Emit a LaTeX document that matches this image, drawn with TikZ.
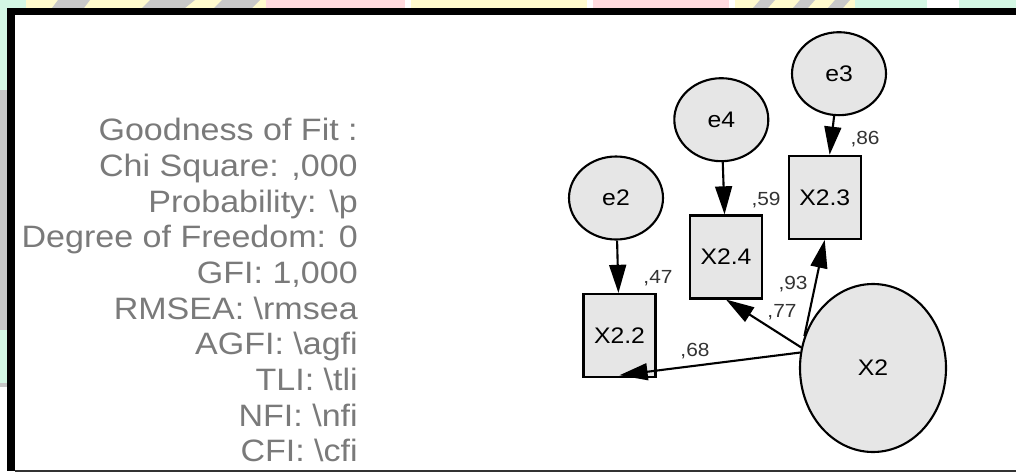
\documentclass[tikz,border=0pt]{standalone}
\usepackage{fontspec}
\setmainfont{Liberation Sans}
\usetikzlibrary{shapes.geometric}
\usetikzlibrary{arrows.meta}
\definecolor{fitgray}{RGB}{122,122,122}
\definecolor{boxgray}{RGB}{230,230,230}
\definecolor{paleyel}{RGB}{255,250,205}
\definecolor{palepink}{RGB}{255,218,222}
\definecolor{palegreen}{RGB}{212,247,228}
\definecolor{smudge}{RGB}{200,200,200}
\def\px{0.025cm}
\def\largeur{1016}
\def\hauteur{473}
\newcommand{\wtx}[1]{\scalebox{1.1}[1]{#1}}

\begin{document}
\begin{tikzpicture}[x=\px, y=-\px,
	obs/.style={draw, line width=1.5pt, fill=boxgray, minimum width=72*\px, minimum height=83*\px, inner sep=0pt, font=\fontsize{16}{19}\selectfont},
	err/.style={ellipse, draw, line width=1.5pt, fill=boxgray, minimum width=94*\px, minimum height=83*\px, inner sep=0pt, font=\fontsize{16}{19}\selectfont},
	coef/.style={text=black!80, inner sep=0pt, font=\fontsize{13.5}{16}\selectfont},
	fit/.style={anchor=base east, text=fitgray, inner sep=0pt, font=\fontsize{22}{26}\selectfont},
	path/.style={line width=1.5pt, -{Triangle[length=20pt, width=12pt]}}]
	\useasboundingbox (0,0) rectangle (\largeur,\hauteur);
	%\draw[step=50, black!10] (0,0) grid (\largeur,\hauteur);
	% strip of the page behind
	\fill[palegreen] (0,0) rectangle (26,8);
	\fill[paleyel] (26,0) rectangle (266,8);
	\fill[smudge] (58,0) -- (90,0) -- (84,8) -- (52,8) -- cycle;
	\fill[smudge] (150,0) -- (195,0) -- (185,8) -- (142,8) -- cycle;
	\fill[smudge] (222,0) -- (260,0) -- (252,8) -- (214,8) -- cycle;
	\fill[palepink] (266,0) rectangle (405,8);
	\fill[paleyel] (411,0) rectangle (587,8);
	\fill[palepink] (593,0) rectangle (729,8);
	\fill[paleyel] (735,0) rectangle (855,8);
	\fill[smudge] (760,0) -- (775,0) -- (768,8) -- (753,8) -- cycle;
	\fill[smudge] (800,0) -- (815,0) -- (808,8) -- (793,8) -- cycle;
	\fill[smudge] (835,0) -- (850,0) -- (843,8) -- (828,8) -- cycle;
	\fill[palegreen] (855,0) rectangle (927,8);
	\fill[palegreen] (959,0) rectangle (1016,8);
	\fill[palegreen] (0,8) rectangle (7,90);
	\fill[smudge] (0,90) rectangle (7,330);
	\fill[palegreen] (0,330) rectangle (7,383);
	\fill[smudge] (0,383) rectangle (7,387);
	% frame
	\fill[black] (7,8) rectangle (\largeur,15);
	\fill[black] (7,8) rectangle (15,471);
	\fill[black!80] (15,469.5) rectangle (\largeur,471.5);

	% fit indices
	\node[fit] (gof) at (358,140.7) {\wtx{Goodness of Fit :}};
	\node[fit] (chi) at (358,176.4) {\wtx{Chi Square: ,000}};
	\node[fit] (prob) at (358,212.0) {\wtx{Probability: \textbackslash p}};
	\node[fit] (df) at (358,247.7) {\wtx{Degree of Freedom: 0}};
	\node[fit] (gfi) at (358,283.4) {\wtx{GFI: 1,000}};
	\node[fit] (rmsea) at (358,319.1) {\wtx{RMSEA: \textbackslash rmsea}};
	\node[fit] (agfi) at (358,354.7) {\wtx{AGFI: \textbackslash agfi}};
	\node[fit] (tli) at (358,390.4) {\wtx{TLI: \textbackslash tli}};
	\node[fit] (nfi) at (358,426.1) {\wtx{NFI: \textbackslash nfi}};
	\node[fit] (cfi) at (358,461.7) {\wtx{CFI: \textbackslash cfi}};

	% measurement model
	\node[err] (e3) at (839,73.7) {\wtx{e3}};
	\node[err] (e4) at (721.3,119.7) {\wtx{e4}};
	\node[err] (e2) at (616,198) {\wtx{e2}};
	\node[obs] (X23) at (824.7,197.3) {\wtx{X2.3}};
	\node[obs] (X24) at (726,257) {\wtx{X2.4}};
	\node[obs] (X22) at (619.5,335.5) {\wtx{X2.2}};
	\node[ellipse, draw, line width=1.5pt, fill=boxgray, minimum width=146*\px, minimum height=168*\px, inner sep=0pt, font=\fontsize{16}{19}\selectfont] (X2) at (873,368) {\wtx{X2}};

	\draw[path] (e3) -- (X23);
	\draw[path] (e4) -- (X24);
	\draw[path] (e2) -- (X22);
	\draw[path] (X2.155) -- (X23.south);
	\draw[path] (X2.164) -- (X24.south);
	\draw[path] (X2.168) -- ([yshift=2pt]X22.south);

	\node[coef] (r86) at (865,139) {\wtx{,86}};
	\node[coef] (r59) at (766,200) {\wtx{,59}};
	\node[coef] (r47) at (658,278) {\wtx{,47}};
	\node[coef] (w68) at (695,351) {\wtx{,68}};
	\node[coef] (w77) at (782,312) {\wtx{,77}};
	\node[coef] (w93) at (793,284) {\wtx{,93}};
\end{tikzpicture}
\end{document}
